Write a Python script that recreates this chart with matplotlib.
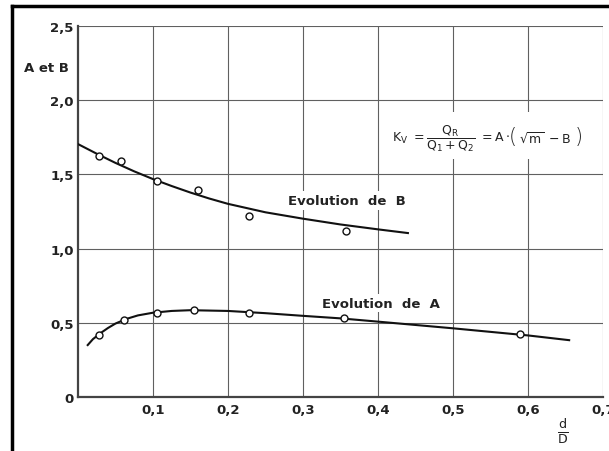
import matplotlib
matplotlib.use("Agg")
import matplotlib.pyplot as plt
from matplotlib.lines import Line2D
from matplotlib.patches import Rectangle

# measured points (d/D, value)
b_x = [0.028, 0.057, 0.105, 0.160, 0.228, 0.358]
b_y = [1.626, 1.590, 1.453, 1.397, 1.222, 1.121]
a_x = [0.028, 0.062, 0.105, 0.155, 0.228, 0.355, 0.590]
a_y = [0.420, 0.520, 0.566, 0.588, 0.564, 0.534, 0.427]

# fitted curves
b_curve_x = [0.0, 0.025, 0.05, 0.075, 0.1, 0.125, 0.15, 0.175, 0.2, 0.25, 0.3, 0.35, 0.4, 0.44]
b_curve_y = [1.705, 1.640, 1.578, 1.521, 1.469, 1.422, 1.378, 1.338, 1.302, 1.245, 1.202, 1.163, 1.130, 1.105]
a_curve_x = [0.013, 0.02, 0.03, 0.04, 0.05, 0.065, 0.08, 0.1, 0.125, 0.15, 0.2, 0.25, 0.3, 0.35, 0.4, 0.5, 0.6, 0.655]
a_curve_y = [0.350, 0.390, 0.430, 0.465, 0.495, 0.527, 0.550, 0.568, 0.580, 0.585, 0.580, 0.565, 0.547, 0.530, 0.508, 0.463, 0.415, 0.383]

x_ticks = [0.1, 0.2, 0.3, 0.4, 0.5, 0.6, 0.7]
x_labels = ["0,1", "0,2", "0,3", "0,4", "0,5", "0,6", "0,7"]
y_ticks = [0, 0.5, 1.0, 1.5, 2.0, 2.5]
y_labels = ["0", "0,5", "1,0", "1,5", "2,0", "2,5"]

plt.rcParams["font.family"] = "DejaVu Sans"
plt.rcParams["mathtext.fontset"] = "dejavusans"

W, H = 609, 452
fig = plt.figure(figsize=(6.09, 4.52), dpi=100)
ax = fig.add_axes([0.128, 0.1195, 0.862, 0.8205])

ax.set_xlim(0, 0.7)
ax.set_ylim(0, 2.5)
ax.set_xticks(x_ticks, x_labels)
ax.set_yticks(y_ticks, y_labels)
ax.tick_params(length=0, labelsize=9.5, colors="#222", pad=4)
ax.tick_params(axis="y", pad=3)
for lab in ax.get_xticklabels() + ax.get_yticklabels():
    lab.set_fontweight("bold")
ax.grid(True, color="#606060", lw=0.8)
ax.set_axisbelow(True)
for s in ["top", "right"]:
    ax.spines[s].set_visible(False)
for s in ["left", "bottom"]:
    ax.spines[s].set_color("#444")
    ax.spines[s].set_linewidth(1.6)

ax.plot(b_curve_x, b_curve_y, color="#111", lw=1.5, zorder=3)
ax.plot(a_curve_x, a_curve_y, color="#111", lw=1.5, zorder=3)
ax.plot(b_x, b_y, "o", ms=5, mfc="white", mec="#111", mew=1, zorder=4)
ax.plot(a_x, a_y, "o", ms=5, mfc="white", mec="#111", mew=1, zorder=4)

box = dict(facecolor="white", edgecolor="none", pad=2)
ax.text(0.359, 1.323, "Evolution  de  B", fontsize=9.5, fontweight="bold", ha="center",
        va="center", color="#222", bbox=box, zorder=2)
ax.text(0.404, 0.633, "Evolution  de  A", fontsize=9.5, fontweight="bold", ha="center",
        va="center", color="#222", bbox=box, zorder=2)

# formula with white background
fig.add_artist(Rectangle((385 / W, 1 - 160 / H), 205 / W, 47 / H, transform=fig.transFigure,
                         facecolor="white", edgecolor="none", zorder=1))
fy = 1 - 139 / H
fig.text(392 / W, fy, r"$\mathregular{K_V\ = \dfrac{Q_R}{Q_1+Q_2}\ = A\cdot}$",
         fontsize=9, ha="left", va="center", color="#222", zorder=2)
fig.text(513 / W, 1 - 137 / H, "(", fontsize=15, fontweight="light", ha="center", va="center",
         color="#222", zorder=2)
fig.text(519 / W, fy, r"$\mathregular{\sqrt{m}\ -B}$", fontsize=9, ha="left", va="center",
         color="#222", zorder=2)
fig.text(579 / W, 1 - 137 / H, ")", fontsize=15, fontweight="light", ha="center", va="center",
         color="#222", zorder=2)

fig.text(24 / W, 1 - 68 / H, "A et B", fontsize=9.5, fontweight="bold", ha="left", va="center", color="#222")
fig.text(563 / W, 1 - 432 / H, r"$\mathregular{\frac{d}{D}}$", fontsize=13, ha="center", va="center", color="#222")

# black frame of the scanned page
fig.add_artist(Line2D([12 / W, 12 / W], [0, 1 - 7 / H], color="black", lw=2.5))
fig.add_artist(Line2D([12 / W, 1], [1 - 7 / H, 1 - 7 / H], color="black", lw=2.5))

fig.savefig("out.png", dpi=100)
